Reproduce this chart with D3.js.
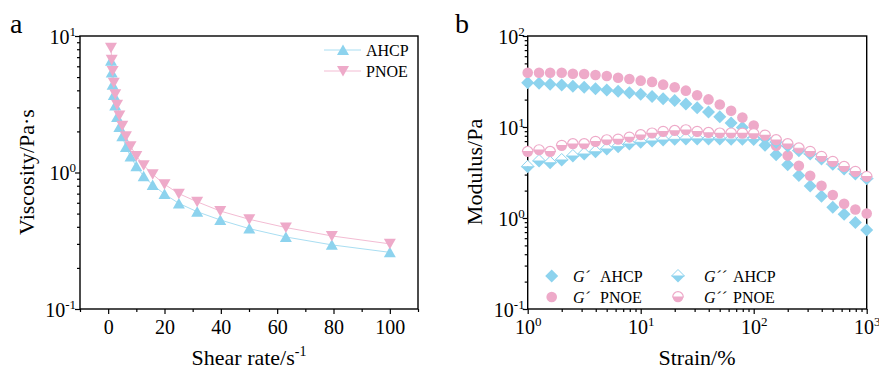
<!DOCTYPE html>
<html>
<head>
<meta charset="utf-8">
<script src="https://cdn.jsdelivr.net/npm/d3@7"></script>
<style>
  body{margin:0;background:#fff;}
  svg{display:block;}
  svg text{font-family:"Liberation Serif","Times New Roman",serif;}
</style>
</head>
<body>
<svg id="chart" width="879" height="370"></svg>
<script>
// panel a : viscosity vs shear rate
const shearRate = [1,1.26,1.58,2,2.51,3.16,3.98,5.01,6.31,7.94,10,12.6,15.8,20,25.1,31.6,39.8,50.1,63.1,79.4,100]
const viscAHCP = [6.6,5.4,4.4,3.7,3.1,2.55,2.15,1.84,1.54,1.31,1.11,0.94,0.81,0.695,0.594,0.516,0.449,0.388,0.337,0.295,0.26]
const viscPNOE = [8.2,6.7,5.55,4.55,3.75,3.13,2.62,2.2,1.84,1.56,1.32,1.13,0.97,0.82,0.70,0.61,0.522,0.454,0.395,0.343,0.30]
const shearTicks = [0,20,40,60,80,100]

// panel b : modulus vs strain
const strain = [1,1.26,1.58,2,2.51,3.16,3.98,5.01,6.31,7.94,10,12.6,15.8,20,25.1,31.6,39.8,50.1,63.1,79.4,100,126,158,200,251,316,398,501,631,794,1000]
const gpAHCP = [30.7,30.2,29.5,29.0,28.0,27.3,26.4,25.5,24.7,23.8,22.9,21.7,20.5,19.5,17.9,16.3,14.6,13.0,11.1,9.9,7.6,6.3,4.95,3.85,2.93,2.25,1.73,1.31,1.1,0.89,0.74]
const gpPNOE = [39.5,39.5,39.5,39.5,38.5,38.2,37.3,36.3,34.8,33.7,32.3,31.3,29.2,27.3,25.1,22.3,20.1,17.7,15.1,12.7,10.4,7.96,6.24,4.87,3.74,2.91,2.26,1.79,1.43,1.24,1.12]
const gppAHCP = [3.66,4.23,4.05,4.34,4.8,5.05,5.35,5.73,6.08,6.5,6.79,7.02,7.19,7.32,7.38,7.4,7.4,7.4,7.35,7.35,7.3,7.5,6.8,6.2,5.5,5.05,4.45,3.9,3.45,3.05,2.7]
const gppPNOE = [5.35,5.58,5.35,6.24,6.5,6.5,6.9,7.19,7.3,7.7,8.17,8.53,8.88,9.1,9.26,8.88,8.65,8.53,8.53,8.5,8.4,8.1,7.2,6.5,5.84,5.36,4.72,4.16,3.66,3.23,2.85]

const BLUE = '#8dd3ee', PINK = '#eeaac9'
const BLUE_LINE = '#a9def2', PINK_LINE = '#f3bcd3'

const svg = d3.select('#chart')

function logTicks(lo, hi){
  const major = [], minor = []
  for(let e = lo; e <= hi; e++){
    major.push(Math.pow(10,e))
    if(e < hi) for(let m = 2; m < 10; m++) minor.push(m*Math.pow(10,e))
  }
  return {major, minor}
}

function powLabel(sel, v){
  const e = Math.round(Math.log10(v))
  sel.text(null)
  sel.append('tspan').text('10')
  sel.append('tspan').attr('dy',-8).attr('font-size',13).text(e)
}

function frame(g, x0, x1, y0, y1){
  g.append('rect')
    .attr('x',x0).attr('y',y0)
    .attr('width',x1-x0).attr('height',y1-y0)
    .attr('fill','none').attr('stroke','#000').attr('stroke-width',1.4)
}

function tri(up){
  return up ? 'M0,-5.5L6,5L-6,5Z' : 'M-6,-5L6,-5L0,5.5Z'
}

/* ---------- panel a ---------- */
const ga = svg.append('g')
const xa = d3.scaleLinear().domain([-10,110]).range([80,418])
const ya = d3.scaleLog().domain([0.1,10]).range([309,36])

const aTicksY = logTicks(-1,1)
ga.append('g').attr('transform','translate(80,0)')
  .call(d3.axisLeft(ya).tickValues(aTicksY.minor).tickSize(3).tickFormat(''))
ga.append('g').attr('transform','translate(80,0)')
  .call(d3.axisLeft(ya).tickValues(aTicksY.major).tickSize(5).tickFormat(''))
  .call(g => g.selectAll('.tick').append('text')
      .attr('x',-4).attr('dy',7).attr('fill','#000')
      .attr('text-anchor','end').attr('font-size',20)
      .each(function(d){ powLabel(d3.select(this), d) }))

ga.append('g').attr('transform','translate(0,309)')
  .call(d3.axisBottom(xa).tickValues([-10,10,30,50,70,90,110]).tickSize(3).tickFormat(''))
ga.append('g').attr('transform','translate(0,309)')
  .call(d3.axisBottom(xa).tickValues(shearTicks).tickSize(5).tickPadding(6))
  .call(g => g.selectAll('text').attr('font-size',20).attr('fill','#000'))

ga.selectAll('.domain').remove()
ga.selectAll('.tick line').attr('stroke-width',1.2)

frame(ga,80,418,36,309)

const lineA = d3.line().x((d,i)=>xa(shearRate[i])).y(d=>ya(d))
ga.append('path').datum(viscAHCP).attr('d',lineA).attr('fill','none').attr('stroke',BLUE_LINE).attr('stroke-width',1)
ga.append('path').datum(viscPNOE).attr('d',lineA).attr('fill','none').attr('stroke',PINK_LINE).attr('stroke-width',1)

ga.selectAll('path.ahcp').data(viscAHCP).enter().append('path')
  .attr('class','ahcp').attr('d',tri(true)).attr('fill',BLUE)
  .attr('transform',(d,i)=>`translate(${xa(shearRate[i])},${ya(d)})`)
ga.selectAll('path.pnoe').data(viscPNOE).enter().append('path')
  .attr('class','pnoe').attr('d',tri(false)).attr('fill',PINK)
  .attr('transform',(d,i)=>`translate(${xa(shearRate[i])},${ya(d)})`)

// legend a
const legA = [['AHCP',BLUE,BLUE_LINE,true],['PNOE',PINK,PINK_LINE,false]]
legA.forEach((l,i)=>{
  const y = 50 + i*21
  ga.append('line').attr('x1',324).attr('x2',361).attr('y1',y).attr('y2',y).attr('stroke',l[2])
  ga.append('path').attr('d',tri(l[3])).attr('fill',l[1]).attr('transform',`translate(343,${y})`)
  ga.append('text').attr('x',366).attr('y',y+6).attr('font-size',16).text(l[0])
})

ga.append('text').attr('x',10).attr('y',33).attr('font-size',28).text('a')
ga.append('text')
  .attr('transform','translate(34,172) rotate(-90)')
  .attr('text-anchor','middle').attr('font-size',22)
  .text('Viscosity/Pa·s')
const xtA = ga.append('text').attr('x',249).attr('y',365).attr('text-anchor','middle').attr('font-size',22)
xtA.append('tspan').text('Shear rate/s')
xtA.append('tspan').attr('dy',-9).attr('font-size',14).text('-1')

/* ---------- panel b ---------- */
const gb = svg.append('g')
const xb = d3.scaleLog().domain([1,1000]).range([527.7,866.7])
const yb = d3.scaleLog().domain([0.1,100]).range([309,36])

const bTicksY = logTicks(-1,2)
const bTicksX = logTicks(0,3)
gb.append('g').attr('transform','translate(527.7,0)')
  .call(d3.axisLeft(yb).tickValues(bTicksY.minor).tickSize(3).tickFormat(''))
gb.append('g').attr('transform','translate(527.7,0)')
  .call(d3.axisLeft(yb).tickValues(bTicksY.major).tickSize(5).tickFormat(''))
  .call(g => g.selectAll('.tick').append('text')
      .attr('x',-3).attr('dy',7).attr('fill','#000')
      .attr('text-anchor','end').attr('font-size',20)
      .each(function(d){ powLabel(d3.select(this), d) }))

gb.append('g').attr('transform','translate(0,309)')
  .call(d3.axisBottom(xb).tickValues(bTicksX.minor).tickSize(3).tickFormat(''))
gb.append('g').attr('transform','translate(0,309)')
  .call(d3.axisBottom(xb).tickValues(bTicksX.major).tickSize(5).tickFormat(''))
  .call(g => g.selectAll('.tick').append('text')
      .attr('y',25).attr('fill','#000')
      .attr('text-anchor','middle').attr('font-size',20)
      .each(function(d){ powLabel(d3.select(this), d) }))

gb.selectAll('.domain').remove()
gb.selectAll('.tick line').attr('stroke-width',1.2)

frame(gb,527.7,866.7,36,309)

const diamond = 'M0,-6.5L6.5,0L0,6.5L-6.5,0Z'
const halfDiamondTop = 'M-6.5,0L0,-6.5L6.5,0Z'
const halfDiamondBot = 'M-6.5,0L0,6.5L6.5,0Z'
const R = 5.3
const halfCircTop = `M${-R},0A${R},${R} 0 0 1 ${R},0Z`
const halfCircBot = `M${-R},0A${R},${R} 0 0 0 ${R},0Z`

const plotB = gb.append('g')
function markers(vals, draw){
  vals.forEach((v,i)=>{
    const g = plotB.append('g').attr('transform',`translate(${xb(strain[i])},${yb(v)})`)
    draw(g)
  })
}
function gpA(g){ g.append('path').attr('d',diamond).attr('fill',BLUE) }
function gpP(g){ g.append('circle').attr('r',R).attr('fill',PINK) }
function gppA(g){
  g.append('path').attr('d',halfDiamondBot).attr('fill',BLUE)
  g.append('path').attr('d',halfDiamondTop).attr('fill','#fff').attr('stroke',BLUE).attr('stroke-width',1)
}
function gppP(g){
  g.append('path').attr('d',halfCircBot).attr('fill',PINK)
  g.append('path').attr('d',halfCircTop).attr('fill','#fff').attr('stroke',PINK).attr('stroke-width',1.2)
}

markers(gpAHCP,gpA)
markers(gpPNOE,gpP)
markers(gppAHCP,gppA)
markers(gppPNOE,gppP)

// legend b
const legB = [
  [551.7,276,gpA,'´',573,600],
  [551.7,297,gpP,'´',573,600],
  [678,276,gppA,'´´',704,733],
  [678,297,gppP,'´´',704,733],
]
const legNames = ['AHCP','PNOE','AHCP','PNOE']
legB.forEach((l,i)=>{
  l[2](gb.append('g').attr('transform',`translate(${l[0]},${l[1]})`))
  const t = gb.append('text').attr('x',l[4]).attr('y',l[1]+6).attr('font-size',16)
  t.append('tspan').attr('font-style','italic').text('G')
  t.append('tspan').attr('font-style','italic').text(l[3])
  t.append('tspan').attr('x',l[5]).text(legNames[i])
})

gb.append('text').attr('x',455).attr('y',33).attr('font-size',28).text('b')
gb.append('text')
  .attr('transform','translate(482,172) rotate(-90)')
  .attr('text-anchor','middle').attr('font-size',22)
  .text('Modulus/Pa')
gb.append('text').attr('x',697).attr('y',365).attr('text-anchor','middle').attr('font-size',22).text('Strain/%')
</script>
</body>
</html>
